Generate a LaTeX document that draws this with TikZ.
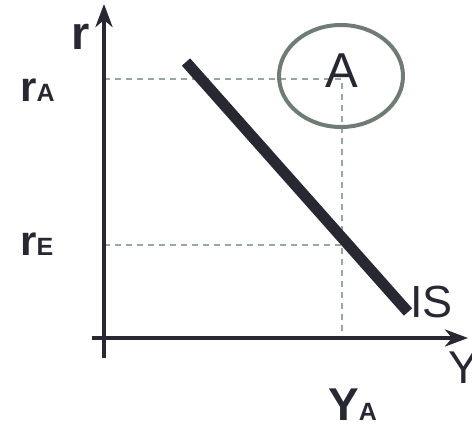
\documentclass[tikz,border=0pt]{standalone}
\usepackage{fontspec}
\setmainfont{Liberation Sans}
\usetikzlibrary{arrows.meta}
\begin{document}
\begin{tikzpicture}[x=1pt,y=-1pt]
    % colours of the graph
    \definecolor{ink}{RGB}{40,40,50}
    \definecolor{guide}{RGB}{150,168,160}
    \definecolor{ring}{RGB}{110,124,116}
    \tikzset{
      axis/.style={ink, line width=4pt, -{Stealth[length=23pt,width=17pt,inset=7pt]}},
      guideline/.style={guide, line width=1.6pt, dash pattern=on 6pt off 5pt},
      lbl/.style={inner sep=0pt, anchor=base west, text=ink}
    }

    \useasboundingbox (0,0) rectangle (472,428);

    % 1. points of the axes
    \coordinate (ybot) at (104,358);
    \coordinate (ytop) at (104,4);
    \coordinate (xbeg) at (92,338);
    \coordinate (xend) at (468,338);

    % 2. guide lines from the point A
    \coordinate (rA) at (104,79);
    \coordinate (rE) at (104,245);
    \coordinate (pA) at (342,79);
    \coordinate (pE) at (342,245);
    \coordinate (YA) at (342,338);
    \draw[guideline] (rA) -- (pA) -- (YA);
    \draw[guideline] (rE) -- (pE);

    % 3. the IS curve
    \coordinate (ISa) at (186,62);
    \coordinate (ISb) at (408,312);
    \draw[ink, line width=11pt] (ISa) -- (ISb);

    % 4. circle round A
    \draw[ring, line width=4pt] (341,76) ellipse (62 and 51);

    % 5. axes
    \draw[axis] (ybot) -- (ytop);
    \draw[axis] (xbeg) -- (xend);

    % 6. labels
    \node[lbl, font=\bfseries\fontsize{47}{47}\selectfont] (rlab) at (71,50) {r};
    \node[lbl, font=\bfseries\fontsize{42}{42}\selectfont] (rAlab) at (20,102) {r{\fontsize{25}{25}\selectfont A}};
    \node[lbl, font=\bfseries\fontsize{42}{42}\selectfont] (rElab) at (20,255) {r{\fontsize{25}{25}\selectfont E}};
    \node[lbl, font=\bfseries\fontsize{46}{46}\selectfont] (YAlab) at (328,420) {Y{\fontsize{25}{25}\selectfont A}};
    \node[lbl, font=\fontsize{46}{46}\selectfont] (Ylab) at (448,383) {Y};
    \node[lbl, font=\fontsize{45}{45}\selectfont] (ISlab) at (410,317) {IS};
    \node[lbl, font=\fontsize{49}{49}\selectfont] (Alab) at (325,88) {A};
\end{tikzpicture}
\end{document}
